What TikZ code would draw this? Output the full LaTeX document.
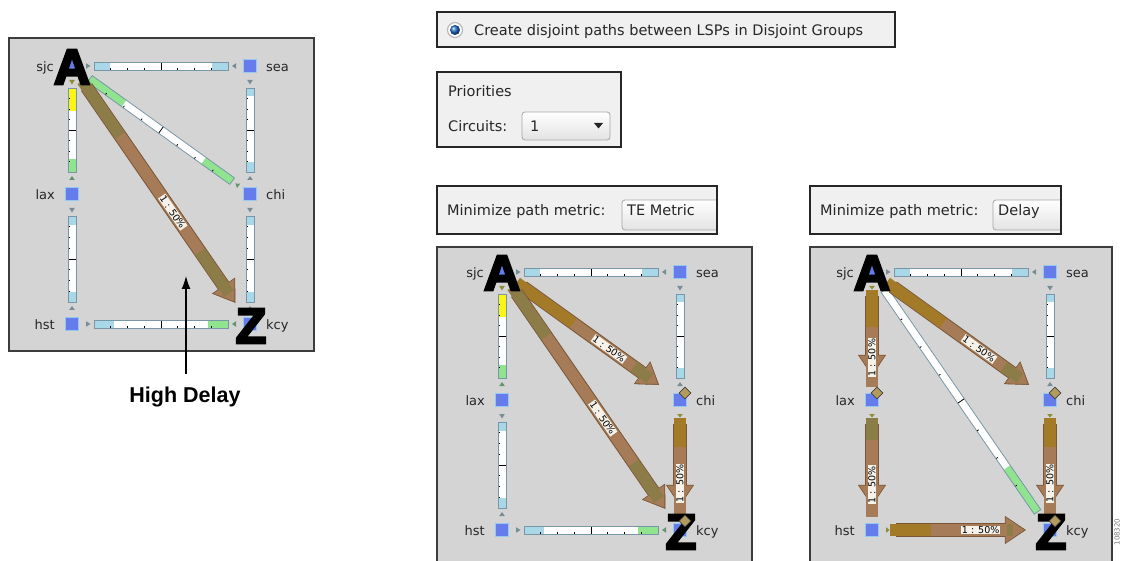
\documentclass[tikz,border=0pt]{standalone}
\usepackage{fontspec}
\setmainfont{DejaVu Sans}
\newfontfamily\arialfont{Liberation Sans}
\newfontfamily\heavyfont[FakeBold=5]{Liberation Sans}
\usetikzlibrary{arrows.meta,calc,decorations.markings,shapes.geometric}

\definecolor{panelbg}{RGB}{212,212,212}
\definecolor{paneledge}{RGB}{60,60,60}
\definecolor{uibg}{RGB}{240,240,240}
\definecolor{nodeblue}{RGB}{100,124,236}
\definecolor{nodeglow}{RGB}{150,200,240}
\definecolor{barblue}{RGB}{168,216,232}
\definecolor{bargreen}{RGB}{144,228,144}
\definecolor{baryellow}{RGB}{250,245,20}
\definecolor{barlinecol}{RGB}{120,150,165}
\definecolor{trigray}{RGB}{120,140,150}
\definecolor{triolive}{RGB}{140,140,50}
\definecolor{trigreen}{RGB}{100,150,110}
\definecolor{brownmain}{RGB}{166,124,88}
\definecolor{brownedge}{RGB}{122,86,54}
\definecolor{olivebar}{RGB}{140,124,72}
\definecolor{golden}{RGB}{162,122,40}
\definecolor{diamondfill}{RGB}{180,154,92}
\definecolor{labelbg}{RGB}{246,242,234}
\definecolor{radioblue}{RGB}{30,110,200}

\tikzset{
 panel/.style={fill=panelbg, draw=paneledge, line width=1.3pt},
 uibox/.style={fill=uibg, draw=black!85, line width=1.3pt},
 dropdown/.style={draw=gray!70, line width=0.8pt, rounded corners=3pt, top color=white, bottom color=gray!22},
 rnode/.style={rectangle, fill=nodeblue, draw=nodeglow, line width=1.2pt, minimum size=13pt, inner sep=0pt},
 lbl/.style={font=\fontsize{13}{14}\selectfont, inner sep=0pt, text=black!85},
 letter/.style={font=\heavyfont\bfseries\fontsize{50}{50}\selectfont, inner sep=0pt, text=black},
 dmd/.style={diamond, fill=diamondfill, draw=black!75, line width=0.8pt, minimum size=12pt, inner sep=0pt},
 tickmark/.style={draw=black, line width=0.8pt},
 barframe/.style={draw=barlinecol, line width=0.8pt},
 plabel/.style={fill=labelbg, inner sep=0.8pt, font=\fontsize{9.5}{10}\selectfont, text=black},
 uitext/.style={font=\fontsize{14.5}{16}\selectfont, inner sep=0pt, text=black!85, anchor=base west},
 hdarrow/.style={draw=black, line width=1.3pt, -{Latex[length=13pt,width=9pt]}},
}

% bar link: from, to, startcolor, startfrac, endcolor, endfrac, starttri, endtri
\newcommand\linkbar[8]{%
 \path[decorate,decoration={markings,mark=at position 0 with {%
   \pgfmathsetmacro\Lb{\pgfdecoratedpathlength}%
   \pgfmathsetmacro\Fa{#4*\Lb}%
   \pgfmathsetmacro\Fb{(1-#6)*\Lb}%
   \pgfmathsetmacro\Hm{0.5*\Lb}%
   \pgfmathsetmacro\Ea{\Lb+4}%
   \pgfmathsetmacro\Eb{\Lb+8}%
   \fill[white] (0pt,-4pt) rectangle (\Lb pt,4pt);
   \fill[#3] (0pt,-4pt) rectangle (\Fa pt,4pt);
   \fill[#5] (\Fb pt,-4pt) rectangle (\Lb pt,4pt);
   \foreach \k in {0.125,0.25,0.375,0.625,0.75,0.875}{%
     \pgfmathsetmacro\Tk{\k*\Lb}%
     \draw[tickmark] (\Tk pt,-4pt) -- (\Tk pt,-1.8pt);}
   \draw[tickmark] (\Hm pt,-4pt) -- (\Hm pt,4pt);
   \draw[barframe] (0pt,-4pt) rectangle (\Lb pt,4pt);
   \fill[#7] (-8pt,-2.8pt) -- (-8pt,2.8pt) -- (-3.5pt,0pt) -- cycle;
   \fill[#8] (\Eb pt,-2.8pt) -- (\Eb pt,2.8pt) -- (\Ea pt,0pt) -- cycle;
 }}] ($(#1)!22pt!(#2)$) -- ($(#2)!22pt!(#1)$);}

% brown LSP arrow: from, to, startcolor, startfrac, endcolor, endfrac
\newcommand\barrow[6]{%
 \draw[draw=brownedge, line width=13.5pt, shorten <=17pt, shorten >=17pt,
   -{Triangle[width=28pt,length=21pt,line width=0.5pt]}] (#1) -- (#2);
 \draw[draw=brownmain, line width=11.5pt, shorten <=18pt, shorten >=18.7pt,
   -{Triangle[width=25pt,length=18.5pt,line width=0.5pt]}] (#1) -- (#2);
 \draw[draw=#3, line width=11.5pt] ($(#1)!18pt!(#2)$) -- ($(#1)!#4!(#2)$);
 \draw[draw=#5, line width=11.5pt] ($(#1)!#6!(#2)$) -- ($(#2)!37pt!(#1)$);
 \fill[triolive] ($(#1)!14pt!(#2)!2.8pt!90:(#2)$) -- ($(#1)!14pt!(#2)!2.8pt!-90:(#2)$) -- ($(#1)!17.5pt!(#2)$) -- cycle;
}
% label on arrow: from, to, pos, orientation, name
\newcommand\blabel[5]{\path (#1) -- (#2) node[plabel, pos=#3, #4] (#5) {1 : 50\%};}

\newcommand\mknodes[3]{%
 \begin{scope}[shift={(#2,#3)}]
  \node[rnode] (#1sjc) at (72,66) {};
  \node[rnode] (#1sea) at (250,66) {};
  \node[rnode] (#1lax) at (72,194) {};
  \node[rnode] (#1chi) at (250,194) {};
  \node[rnode] (#1hst) at (72,324) {};
  \node[rnode] (#1kcy) at (250,324) {};
 \end{scope}}

\newcommand\mklabels[3]{%
 \begin{scope}[shift={(#2,#3)}]
  \node[lbl,anchor=base east] (#1sjcl) at (54,71.5) {sjc};
  \node[lbl,anchor=base west] (#1seal) at (266,71.5) {sea};
  \node[lbl,anchor=base east] (#1laxl) at (55,199.5) {lax};
  \node[lbl,anchor=base west] (#1chil) at (266,199.5) {chi};
  \node[lbl,anchor=base east] (#1hstl) at (55,329.5) {hst};
  \node[lbl,anchor=base west] (#1kcyl) at (266,329.5) {kcy};
 \end{scope}
 \node[letter] (#1A) at ($(#1sjc)+(0,1)$) {A};
 \node[letter] (#1Z) at ($(#1kcy)+(1,2)$) {Z};}

\begin{document}
\begin{tikzpicture}[x=1pt,y=-1pt]
\useasboundingbox (0,0) rectangle (1122,561);
\fill[white] (0,0) rectangle (1122,561);

% ---------- top UI ----------
\draw[uibox] (437,12) rectangle (895,47);
\node[circle, minimum size=15pt, inner sep=0pt, draw=gray!55, line width=1.2pt, fill=white] (radio) at (455,30) {};
\node[circle, minimum size=10pt, inner sep=0pt, ball color=radioblue] (radiodot) at (455,30) {};
\node[uitext] (radiotext) at (474,36) {Create disjoint paths between LSPs in Disjoint Groups};

\draw[uibox] (437,72) rectangle (621,147);
\node[uitext] (prio) at (448,97) {Priorities};
\node[uitext] (circ) at (448,132) {Circuits:};
\draw[dropdown] (522,112) rectangle (610,140);
\node[uitext] (circval) at (530,132) {1};
\fill[black!85] (594,123) -- (603,123) -- (598.5,128.5) -- cycle;

\draw[uibox] (437,186) rectangle (717,234);
\begin{scope}
 \clip (437,186) rectangle (717,234);
 \draw[dropdown] (622,200) rectangle (740,230);
\end{scope}
\draw[draw=black!85, line width=1.3pt] (437,186) rectangle (717,234);
\node[uitext] (mpm1) at (447,216) {Minimize path metric:};
\node[uitext] (te) at (627,216) {TE Metric};

\draw[uibox] (810,186) rectangle (1061,234);
\begin{scope}
 \clip (810,186) rectangle (1061,234);
 \draw[dropdown] (993,200) rectangle (1090,230);
\end{scope}
\draw[draw=black!85, line width=1.3pt] (810,186) rectangle (1061,234);
\node[uitext] (mpm2) at (820,216) {Minimize path metric:};
\node[uitext] (dl) at (998,216) {Delay};

% ---------- panels ----------
\draw[panel] (9,38) rectangle (314,351);
\draw[panel] (437,247) rectangle (752,575);
\draw[panel] (810,247) rectangle (1112,575);

\mknodes{P}{0}{0}
\mknodes{Q}{430}{206}
\mknodes{R}{800}{206}

% panel 1
\linkbar{Psjc}{Psea}{barblue}{0.12}{barblue}{0.12}{trigray}{trigray}
\linkbar{Psjc}{Plax}{baryellow}{0.27}{bargreen}{0.15}{triolive}{trigreen}
\linkbar{Psea}{Pchi}{barblue}{0.1}{barblue}{0.12}{trigray}{trigray}
\linkbar{Plax}{Phst}{barblue}{0.1}{barblue}{0.12}{trigray}{trigray}
\linkbar{Pchi}{Pkcy}{barblue}{0.1}{barblue}{0.12}{trigray}{trigray}
\linkbar{Phst}{Pkcy}{barblue}{0.15}{bargreen}{0.15}{trigray}{trigreen}
\linkbar{Psjc}{Pchi}{bargreen}{0.24}{bargreen}{0.2}{trigreen}{trigreen}
\barrow{Psjc}{Pkcy}{olivebar}{0.27}{olivebar}{0.72}
\blabel{Psjc}{Pkcy}{0.57}{sloped}{Plsk}

% panel 2
\linkbar{Qsjc}{Qsea}{barblue}{0.12}{barblue}{0.12}{trigray}{trigray}
\linkbar{Qsjc}{Qlax}{baryellow}{0.27}{bargreen}{0.15}{triolive}{trigreen}
\linkbar{Qsea}{Qchi}{barblue}{0.1}{barblue}{0.12}{trigray}{trigray}
\linkbar{Qlax}{Qhst}{barblue}{0.1}{barblue}{0.12}{trigray}{trigray}
\linkbar{Qhst}{Qkcy}{barblue}{0.15}{bargreen}{0.15}{trigray}{trigreen}
\barrow{Qsjc}{Qchi}{golden}{0.4}{olivebar}{0.74}
\barrow{Qsjc}{Qkcy}{olivebar}{0.25}{olivebar}{0.74}
\barrow{Qchi}{Qkcy}{golden}{0.36}{brownmain}{0.9}
\blabel{Qsjc}{Qchi}{0.61}{sloped}{Qlsc}
\blabel{Qsjc}{Qkcy}{0.57}{sloped}{Qlsk}
\blabel{Qchi}{Qkcy}{0.66}{rotate=90}{Qlck}

% panel 3
\linkbar{Rsjc}{Rsea}{barblue}{0.12}{barblue}{0.12}{trigray}{trigray}
\linkbar{Rsea}{Rchi}{barblue}{0.1}{barblue}{0.12}{trigray}{trigray}
\linkbar{Rsjc}{Rkcy}{white}{0}{bargreen}{0.2}{trigray}{trigreen}
\barrow{Rsjc}{Rlax}{golden}{0.43}{brownmain}{0.9}
\barrow{Rlax}{Rhst}{olivebar}{0.31}{brownmain}{0.9}
\barrow{Rhst}{Rkcy}{golden}{0.33}{olivebar}{0.76}
\barrow{Rsjc}{Rchi}{golden}{0.4}{olivebar}{0.74}
\barrow{Rchi}{Rkcy}{golden}{0.36}{brownmain}{0.9}
\blabel{Rsjc}{Rlax}{0.69}{rotate=90}{Rlsl}
\blabel{Rlax}{Rhst}{0.67}{rotate=90}{Rllh}
\blabel{Rhst}{Rkcy}{0.62}{}{Rlhk}
\blabel{Rsjc}{Rchi}{0.61}{sloped}{Rlsc}
\blabel{Rchi}{Rkcy}{0.66}{rotate=90}{Rlck}

% labels and letters
\mklabels{P}{0}{0}
\mklabels{Q}{430}{206}
\mklabels{R}{800}{206}

% diamonds
\node[dmd] (Qchid) at ($(Qchi)+(5,-7)$) {};
\node[dmd] (Qkcyd) at ($(Qkcy)+(5,-9)$) {};
\node[dmd] (Rlaxd) at ($(Rlax)+(5,-7)$) {};
\node[dmd] (Rchid) at ($(Rchi)+(5,-7)$) {};
\node[dmd] (Rkcyd) at ($(Rkcy)+(5,-9)$) {};

% High Delay annotation
\coordinate (hdtip) at (186,276);
\node[font=\arialfont\bfseries\fontsize{21.5}{23}\selectfont, anchor=base, inner sep=0pt] (hd) at (185,402) {High Delay};
\draw[hdarrow, shorten <=12pt] (hd.north -| hdtip) -- (hdtip);

% figure number
\node[rotate=90, font=\fontsize{7}{8}\selectfont, text=black!55, inner sep=0pt] (fignum) at (1117,532) {108320};
\end{tikzpicture}
\end{document}
